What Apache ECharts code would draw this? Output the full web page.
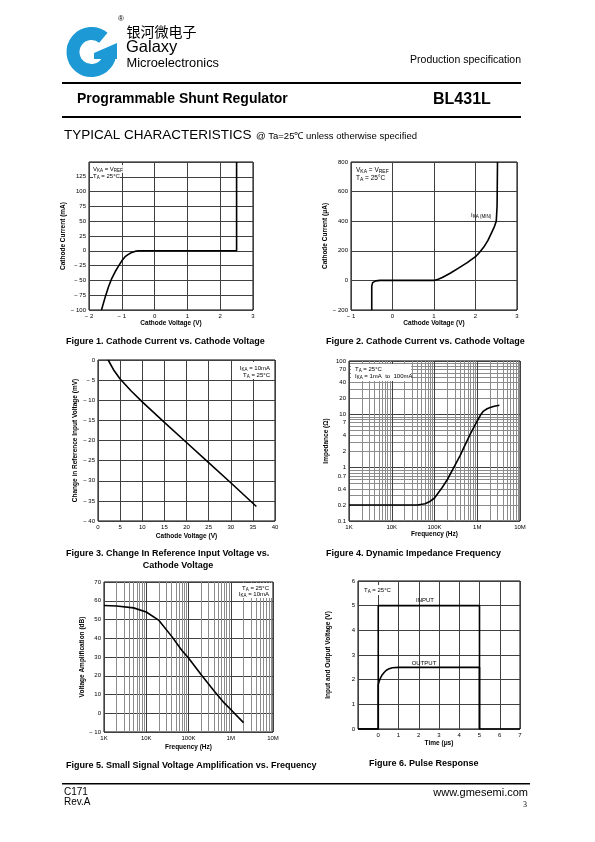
<!DOCTYPE html>
<html><head><meta charset="utf-8">
<script src="https://cdn.jsdelivr.net/npm/echarts@6/dist/echarts.min.js"></script>
<style>html,body{margin:0;padding:0;background:#fff}#c{width:595px;height:842px}</style>
</head><body><div id="c"></div>
<script>
// ---------- DATA ----------
// Figure 1: cathode current (mA) vs cathode voltage (V)
const fig1Voltage = [-1.62,-1.5,-1.4,-1.3,-1.2,-1.1,-1.0,-0.9,-0.8,-0.7,-0.6,-0.5,0,1,2,2.5,2.5];
const fig1Current = [-100,-77,-60,-46,-35,-26,-17,-10,-6,-3,-1,0,0,0,0,0,150];
// Figure 2: cathode current (uA) vs cathode voltage (V)
const fig2Voltage = [-0.5,-0.5,-0.48,-0.45,-0.4,-0.3,0,0.5,1.0,1.1,1.2,1.4,1.6,1.8,2.0,2.1,2.2,2.3,2.4,2.45,2.5,2.52,2.53];
const fig2Current = [-200,-40,-15,-7,-3,0,0,0,0,8,20,50,85,120,160,190,225,270,330,360,400,500,800];
// Figure 3: change in reference input voltage (mV) vs cathode voltage (V)
const fig3Voltage = [2.3,3.5,5,7.5,10,15,20,25,30,35.8];
const fig3Change  = [0,-2.4,-4.7,-7.7,-10.4,-15.5,-20.5,-25.5,-30.5,-36.4];
// Figure 4: dynamic impedance (ohm) vs frequency (Hz)
const fig4Freq = [1e3,1e4,4e4,6e4,8e4,1e5,1.5e5,2e5,3e5,4e5,5e5,7e5,1e6,1.2e6,1.4e6,1.7e6,2e6,2.5e6,3.3e6];
const fig4Imp  = [0.2,0.2,0.2,0.21,0.235,0.27,0.42,0.6,1.1,1.7,2.5,4.4,7.5,9.8,11.5,12.7,13.4,14.2,14.8];
// Figure 5: small signal voltage amplification (dB) vs frequency (Hz)
const fig5Freq = [1e3,2e3,5e3,1e4,2e4,4e4,7e4,1e5,2e5,4e5,7e5,1e6,2e6];
const fig5Gain = [57.5,57.2,56.2,54,49.5,41,33.5,29.5,20.5,12,5.5,2,-5];
// Figure 6: pulse response (V) vs time (us)
const fig6InTime  = [-1,0,0,5,5,7];
const fig6InVolt  = [0,0,5,5,0,0];
const fig6OutTime = [-1,0,0,0.05,0.1,0.2,0.3,0.4,0.5,0.7,1,5,5];
const fig6OutVolt = [0,0,1.8,1.95,2.05,2.2,2.3,2.38,2.43,2.48,2.5,2.5,0];
// Tick labels
const freqLabelValues = [1e3,1e4,1e5,1e6,1e7];
const freqLabelText = {1000:'1K',10000:'10K',100000:'100K',1000000:'1M',10000000:'10M'};
const impLabelValues = [0.1,0.2,0.4,0.7,1,2,4,7,10,20,40,70,100];

// ---------- HELPERS ----------
const FONT = 'Liberation Sans, Arial, sans-serif';
const GRIDC = '#404040';
const MINORC = '#8c8c8c';
function logGrid(lo, hi){ // 1..9 per decade
  const out=[];
  for(let e=lo;e<hi;e++){ for(let m=1;m<10;m++){ out.push(Number((m*Math.pow(10,e)).toPrecision(3))); } }
  out.push(Math.pow(10,hi)); return out;
}
function minus(v){ return v<0 ? '\u2212 '+(-v) : String(v); }
function pairs(a,b){ return a.map((x,i)=>[x,b[i]]); }
const lbl = {fontSize:6, color:'#000', fontFamily:FONT};
const nameStyle = {fontSize:6.5, fontWeight:'bold', color:'#000', fontFamily:FONT};
function valAxis(g,min,max,interval,name,gap,fmt,extra){
  return Object.assign({gridIndex:g,type:'value',min,max,interval,
    axisLine:{show:false},axisTick:{show:false},
    splitLine:{show:true,lineStyle:{color:GRIDC,width:1}},
    axisLabel:Object.assign({margin:3,formatter:fmt||minus},lbl),
    name,nameLocation:'middle',nameGap:gap,nameTextStyle:nameStyle},extra||{});
}
function logAxis(g,min,max,ticks,labels,fmt,name,gap){
  return {gridIndex:g,type:'log',logBase:10,min,max,
    axisLine:{show:false},
    axisTick:{show:false,customValues:ticks},
    splitLine:{show:true,lineStyle:{color:[GRIDC,MINORC,MINORC,MINORC,MINORC,MINORC,MINORC,MINORC,MINORC],width:1}},
    axisLabel:Object.assign({margin:3,customValues:labels,formatter:fmt},lbl),
    name,nameLocation:'middle',nameGap:gap,nameTextStyle:nameStyle};
}
function curve(g,data){
  return {type:'line',xAxisIndex:g,yAxisIndex:g,data,symbol:'none',smooth:false,
    lineStyle:{color:'#000',width:1.6},silent:true,animation:false};
}
const gridBase = {show:true,borderColor:'#000',borderWidth:1,backgroundColor:'transparent'};

// ---------- GRAPHIC TEXT ----------
function T(x,y,text,o){
  return Object.assign({type:'text',x,y,z:50,style:Object.assign({text,fill:'#000',font:'10px '+FONT,textVerticalAlign:'middle'},o||{})});
}
function TS(x,y,opt){ return {type:'text',x,y,z:50,style:opt}; }
const sub = {a:{fontSize:6,fontFamily:FONT,color:'#000'},b:{fontSize:4.5,fontFamily:FONT,color:'#000',padding:[3,0,0,0]}};
const sub7 = {a:{fontSize:6.5,fontFamily:FONT,color:'#000'},b:{fontSize:5,fontFamily:FONT,color:'#000',padding:[3,0,0,0]}};
const BLUE = '#1d9ad6';
const CAP = 'bold 9px '+FONT;
const graphics = [
  // logo
  {type:'arc',z:50,shape:{cx:91.5,cy:52,r:18.5,startAngle:-50*Math.PI/180,endAngle:2*Math.PI/180,clockwise:false},style:{stroke:BLUE,lineWidth:13,fill:null}},
  {type:'polygon',z:50,shape:{points:[[94,53],[117,43],[117,59],[94,59]]},style:{fill:BLUE}},
  T(118,19,'\u00AE',{font:'8px '+FONT}),
  T(126.5,32,'银河微电子',{font:'14px "Noto Sans CJK SC"'}),
  T(126,47.5,'Galaxy',{font:'16.5px '+FONT}),
  T(126.5,63.5,'Microelectronics',{font:'12.8px '+FONT}),
  T(521,60.5,'Production specification',{font:'10.5px '+FONT,textAlign:'right'}),
  {type:'rect',z:50,shape:{x:62,y:82,width:459,height:2},style:{fill:'#000'}},
  T(77,99.5,'Programmable Shunt Regulator',{font:'bold 14px '+FONT}),
  T(433,99.5,'BL431L',{font:'bold 16px '+FONT}),
  {type:'rect',z:50,shape:{x:62,y:116,width:459,height:2},style:{fill:'#000'}},
  T(64,135,'TYPICAL CHARACTERISTICS',{font:'13.5px '+FONT}),
  T(256,136,'@ Ta=25\u2103 unless otherwise specified',{font:'9.5px '+FONT}),
  // captions
  T(66,341.5,'Figure 1. Cathode Current vs. Cathode Voltage',{font:CAP}),
  T(326,341.5,'Figure 2. Cathode Current vs. Cathode Voltage',{font:CAP}),
  T(66,553.5,'Figure 3. Change In Reference Input Voltage vs.',{font:CAP}),
  T(178,565.5,'Cathode Voltage',{font:CAP,textAlign:'center'}),
  T(326,553.5,'Figure 4. Dynamic Impedance Frequency',{font:CAP}),
  T(66,766,'Figure 5. Small Signal Voltage Amplification vs. Frequency',{font:CAP}),
  T(369,763.5,'Figure 6. Pulse Response',{font:CAP}),
  // footer
  {type:'rect',z:50,shape:{x:62,y:783,width:468,height:1.5},style:{fill:'#000'}},
  T(64,792.5,'C171',{font:'10px '+FONT}),
  T(64,802.5,'Rev.A',{font:'10px '+FONT}),
  T(528,792.5,'www.gmesemi.com',{font:'11px '+FONT,textAlign:'right'}),
  T(527,804.5,'3',{font:'8px "Liberation Serif", serif',textAlign:'right'}),
  // in-plot annotations
  TS(93,165,{text:'{a|V}{b|KA}{a| = V}{b|REF}',rich:sub,backgroundColor:'#fff'}),
  TS(93,172,{text:'{a|T}{b|A}{a| = 25\u00B0C}',rich:sub,backgroundColor:'#fff'}),
  TS(356,166,{text:'{a|V}{b|KA}{a| = V}{b|REF}',rich:sub7}),
  TS(356,174.5,{text:'{a|T}{b|A}{a| = 25\u00B0C}',rich:sub7}),
  TS(471,211,{text:'{a|I}{b|KA (MIN)}',rich:sub}),
  {type:'rect',z:49,shape:{x:234,y:362,width:39,height:17},style:{fill:'#fff'}},
  TS(270,364,{text:'{a|I}{b|KA}{a| = 10mA}',rich:sub,align:'right'}),
  TS(270,371,{text:'{a|T}{b|A}{a| = 25\u00B0C}',rich:sub,align:'right'}),
  {type:'rect',z:49,shape:{x:351,y:364,width:60,height:17},style:{fill:'#fff'}},
  TS(355,365,{text:'{a|T}{b|A}{a| = 25\u00B0C}',rich:sub}),
  TS(355,372,{text:'{a|I}{b|KA}{a| = 1mA  to  100mA}',rich:sub}),
  {type:'rect',z:49,shape:{x:238,y:583,width:34,height:15},style:{fill:'#fff'}},
  TS(269,584,{text:'{a|T}{b|A}{a| = 25\u00B0C}',rich:sub,align:'right'}),
  TS(269,590,{text:'{a|I}{b|KA}{a| = 10mA}',rich:sub,align:'right'}),
  {type:'rect',z:49,shape:{x:362,y:585,width:30,height:10},style:{fill:'#fff'}},
  TS(364,586.5,{text:'{a|T}{b|A}{a| = 25\u00B0C}',rich:sub}),
  T(425,600,'INPUT',{font:'6px '+FONT,textAlign:'center'}),
  T(424,663.5,'OUTPUT',{font:'6px '+FONT,textAlign:'center'})
];

// ---------- OPTION ----------
const option = {
  backgroundColor:'#fff',
  animation:false,
  textStyle:{fontFamily:FONT},
  grid:[
    Object.assign({left:89,top:162,width:164,height:148},gridBase),
    Object.assign({left:351,top:162,width:166,height:148},gridBase),
    Object.assign({left:98,top:360,width:177,height:161},gridBase),
    Object.assign({left:349,top:361,width:171,height:160},gridBase),
    Object.assign({left:104,top:582,width:169,height:150},gridBase),
    Object.assign({left:358,top:581,width:162,height:148},gridBase)
  ],
  xAxis:[
    valAxis(0,-2,3,1,'Cathode Voltage (V)',10),
    valAxis(1,-1,3,1,'Cathode Voltage (V)',10),
    valAxis(2,0,40,5,'Cathode Voltage (V)',12),
    logAxis(3,1e3,1e7,logGrid(3,7),freqLabelValues,v=>freqLabelText[Math.round(v)]||'', 'Frequency (Hz)',10),
    logAxis(4,1e3,1e7,logGrid(3,7),freqLabelValues,v=>freqLabelText[Math.round(v)]||'', 'Frequency (Hz)',12),
    valAxis(5,-1,7,1,'Time (\u03BCs)',11,v=>v<0?'':String(v))
  ],
  yAxis:[
    valAxis(0,-100,150,25,'Cathode Current (mA)',17,v=>v===150?'':minus(v)),
    valAxis(1,-200,800,200,'Cathode Current (\u03BCA)',19),
    valAxis(2,-40,0,5,'Change in Reference Input Voltage (mV)',19),
    logAxis(3,0.1,100,logGrid(-1,2),impLabelValues,v=>String(Number(v.toPrecision(3))),'Impedance (\u03A9)',19),
    valAxis(4,-10,70,10,'Voltage Amplification (dB)',14),
    valAxis(5,0,6,1,'Input and Output Voltage (V)',26)
  ],
  series:[
    curve(0,pairs(fig1Voltage,fig1Current)),
    curve(1,pairs(fig2Voltage,fig2Current)),
    curve(2,pairs(fig3Voltage,fig3Change)),
    curve(3,pairs(fig4Freq,fig4Imp)),
    curve(4,pairs(fig5Freq,fig5Gain)),
    curve(5,pairs(fig6InTime,fig6InVolt)),
    curve(5,pairs(fig6OutTime,fig6OutVolt))
  ],
  graphic:graphics
};
const chart = echarts.init(document.getElementById('c'),null,{renderer:'canvas'});
chart.setOption(option);
</script>
</body></html>
